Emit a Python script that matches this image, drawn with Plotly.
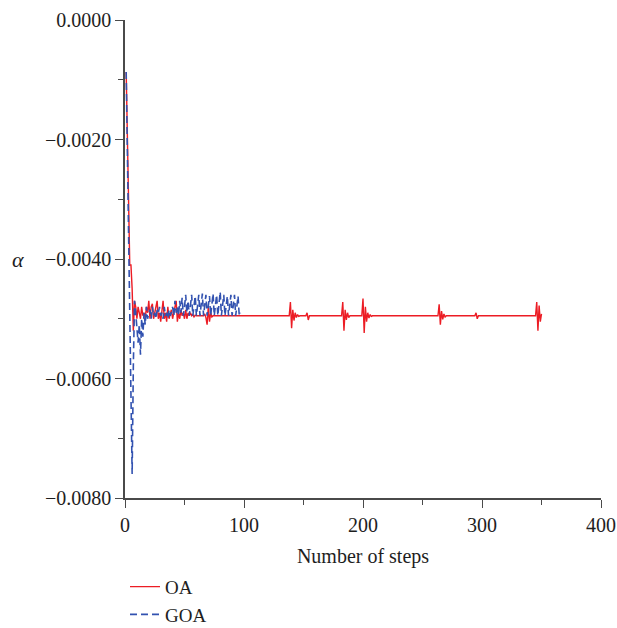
import plotly.graph_objects as go

# OA trajectory: dense early steps, then sparse points on flat stretches and around bursts
oa_steps = [
    1, 2, 3, 4, 5, 6, 7, 8, 9, 10, 11, 12, 13, 14, 15, 16, 17, 18, 19, 20,
    21, 22, 23, 24, 25, 26, 27, 28, 29, 30, 31, 32, 33, 34, 35, 36, 37, 38, 39, 40,
    41, 42, 43, 44, 45, 46, 47, 48, 49, 50, 51, 52, 53, 54, 55, 56, 57, 58, 59, 60,
    66, 67, 68, 69, 70, 71, 72, 73, 74,
    138, 139, 140, 141, 142, 143, 144, 145, 146, 147,
    152, 153, 154, 155,
    182, 183, 184, 185, 186, 187, 188, 189,
    199, 200, 201, 202, 203, 204, 205, 206, 207, 208,
    263, 264, 265, 266, 267, 268, 269, 270,
    294, 295, 296, 297,
    345, 346, 347, 348, 349, 350,
]
oa_alpha = [
    -0.00087, -0.0020, -0.0033, -0.0041, -0.0041, -0.0045, -0.0052, -0.0047, -0.0048, -0.0050,
    -0.0048, -0.0049, -0.0050, -0.0048, -0.00495, -0.0049, -0.0050, -0.0048, -0.0049, -0.0047,
    -0.0050, -0.0048, -0.00475, -0.0050, -0.0049, -0.0048, -0.0047, -0.0050, -0.0049, -0.00505,
    -0.0048, -0.0047, -0.0050, -0.0049, -0.00505, -0.0048, -0.0050, -0.0049, -0.00485, -0.0050,
    -0.0049, -0.0048, -0.0047, -0.00505, -0.0049, -0.0050, -0.00485, -0.00495, -0.0049, -0.0050,
    -0.00485, -0.0050, -0.0049, -0.00495, -0.0049, -0.00495, -0.00493, -0.00497, -0.00494, -0.00495,
    -0.00495, -0.00492, -0.00498, -0.0051, -0.0048, -0.00505, -0.0049, -0.00497, -0.00495,
    -0.00495, -0.00472, -0.00516, -0.00485, -0.00503, -0.0049, -0.00498, -0.00493, -0.00496, -0.00495,
    -0.00495, -0.0049, -0.00502, -0.00495,
    -0.00495, -0.00472, -0.0052, -0.00485, -0.00502, -0.0049, -0.00498, -0.00495,
    -0.00495, -0.00466, -0.00524, -0.0048, -0.00505, -0.0049, -0.00499, -0.00493, -0.00496, -0.00495,
    -0.00495, -0.00476, -0.0051, -0.00487, -0.00501, -0.00492, -0.00497, -0.00495,
    -0.00495, -0.0049, -0.0050, -0.00495,
    -0.00495, -0.00472, -0.0052, -0.00478, -0.00505, -0.00492,
]

# GOA trajectory, one value per step
goa_steps = list(range(1, 98))
goa_alpha = [
    -0.00087, -0.0022, -0.0035, -0.0048, -0.0065, -0.0076, -0.0058, -0.0047, -0.0049, -0.0052,
    -0.0054, -0.0051, -0.0056, -0.0050, -0.0053, -0.0049, -0.0051, -0.0048, -0.0050, -0.0049,
    -0.00485, -0.0050, -0.0048, -0.00495, -0.0049, -0.0050, -0.00485, -0.0049, -0.0048, -0.00495,
    -0.0049, -0.0050, -0.0048, -0.00495, -0.0049, -0.0050, -0.00485, -0.00495, -0.0049, -0.0048,
    -0.00495, -0.0047, -0.0049, -0.0048, -0.00495, -0.0047, -0.0049, -0.00465, -0.00495, -0.0048,
    -0.0046, -0.0049, -0.0047, -0.00495, -0.0048, -0.0046, -0.00495, -0.0048, -0.00462, -0.00495,
    -0.00478, -0.0046, -0.00495, -0.0048, -0.00458, -0.00495, -0.00478, -0.0046, -0.00495, -0.0048,
    -0.00462, -0.00495, -0.00478, -0.00458, -0.00495, -0.0048, -0.0046, -0.00495, -0.00476, -0.00455,
    -0.00495, -0.0048, -0.0046, -0.00495, -0.00478, -0.00462, -0.00495, -0.0048, -0.0046, -0.00495,
    -0.00478, -0.0046, -0.00495, -0.0048, -0.00462, -0.00495, -0.0049,
]

x_ticks = [0, 100, 200, 300, 400]
y_ticks = [0.0, -0.002, -0.004, -0.006, -0.008]

RED = "#ec1c24"
BLUE = "#3252b0"
FONT = "Liberation Serif"
AXIS = "#4a4a4a"
TEXT = "#1e1e1e"

fig = go.Figure()
fig.add_trace(go.Scatter(
    x=oa_steps, y=oa_alpha, mode="lines", name="OA",
    line=dict(color=RED, width=1.4),
))
fig.add_trace(go.Scatter(
    x=goa_steps, y=goa_alpha, mode="lines", name="GOA",
    line=dict(color=BLUE, width=1.6, dash="7px,4px"),
))

axis_common = dict(
    showgrid=False, zeroline=False, showline=True, linecolor=AXIS, linewidth=1.5,
    ticks="outside", ticklen=8, tickwidth=1.3, tickcolor=AXIS, automargin=False,
    tickfont=dict(family=FONT, size=20, color=TEXT),
)

fig.update_xaxes(
    range=[0, 400], tickvals=x_ticks, ticktext=[str(v) for v in x_ticks],
    minor=dict(dtick=50, ticks="outside", ticklen=5, tickcolor=AXIS, tickwidth=1.2),
    title=dict(text="Number of steps", font=dict(family=FONT, size=20, color=TEXT), standoff=14),
    **axis_common,
)
fig.update_yaxes(
    range=[-0.008, 0], tickvals=y_ticks, tickformat=".4f",
    minor=dict(dtick=0.001, ticks="outside", ticklen=5, tickcolor=AXIS, tickwidth=1.2),
    **axis_common,
)

fig.add_annotation(
    text="<i>α</i>", xref="paper", yref="paper", x=-0.225, y=0.5,
    showarrow=False, font=dict(family=FONT, size=22, color=TEXT),
    xanchor="center", yanchor="middle",
)

fig.update_layout(
    width=617, height=628,
    margin=dict(l=125, r=16, t=20, b=130, autoexpand=False),
    paper_bgcolor="white", plot_bgcolor="white",
    showlegend=True,
    legend=dict(
        x=0.0, y=-0.146, xanchor="left", yanchor="top",
        font=dict(family=FONT, size=19, color=TEXT),
        tracegroupgap=0, itemwidth=30,
    ),
)

fig.write_html("out.html")
